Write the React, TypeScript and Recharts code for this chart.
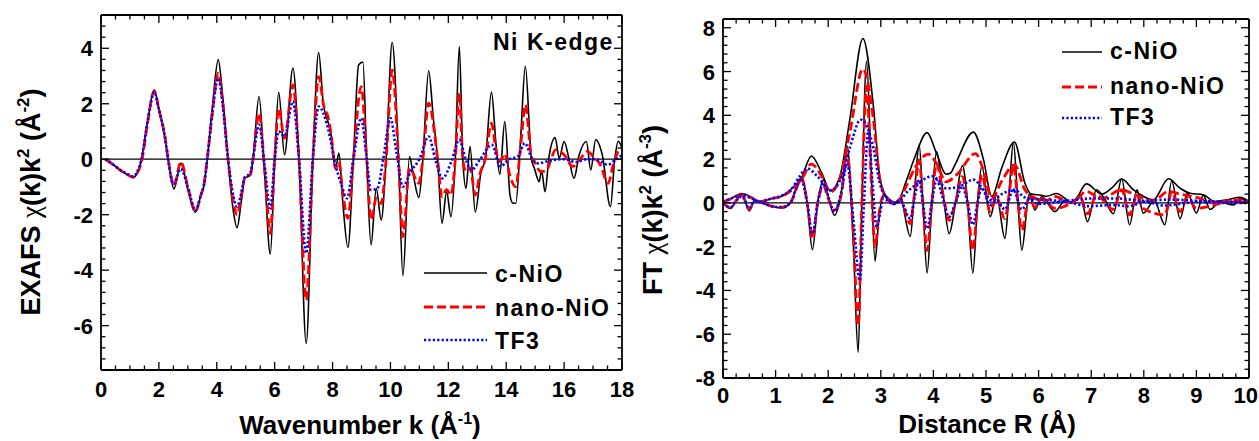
import React from "react";
import { LineChart, Line, XAxis, YAxis, ReferenceLine } from "recharts";

type Pt = [number, number];

// ---- EXAFS chi(k)k^2, left panel: [k, value] ----
const exafsC: Pt[] = [
  [0.15, 0], [0.43, -0.2], [0.66, -0.39], [0.9, -0.55], [1.11, -0.65], [1.25, -0.5], [1.4, 0], [1.6, 1.3], [1.84, 2.5],
  [2.0, 1.8], [2.21, 0.76], [2.32, 0], [2.52, -1.07], [2.76, -0.14], [3.0, -1.1], [3.26, -1.91], [3.45, -1.3],
  [3.56, -0.93], [3.67, 0], [3.85, 1.9], [4.05, 3.59], [4.2, 2.3], [4.39, 0], [4.55, -1.7], [4.7, -2.47],
  [4.85, -1.5], [4.97, -0.69], [5.16, -0.57], [5.25, 0], [5.46, 2.26], [5.65, -0.5], [5.85, -3.42], [6.0, 0],
  [6.14, 2.41], [6.34, 0.16], [6.63, 3.29], [6.84, 0], [7.09, -6.64], [7.32, 0], [7.52, 3.85], [7.68, 2.0],
  [7.84, 1.36], [7.95, 0.88], [8.1, -0.35], [8.22, 0.22], [8.35, -1.5], [8.53, -3.18], [8.72, 0], [8.9, 3.4],
  [9.05, 3.5], [9.18, 0], [9.33, -3.09], [9.51, -1.05], [9.68, -2.19], [9.85, 0], [10.06, 4.21], [10.28, 0],
  [10.43, -4.2], [10.66, 0.1], [10.77, -0.45], [10.98, -1.38], [11.12, 0], [11.32, 3.19], [11.48, 1.5],
  [11.63, 0], [11.78, -2.31], [11.94, -1.17], [12.09, -2.07], [12.24, 0], [12.38, 4.07], [12.5, 0],
  [12.61, -1.05], [12.75, 0.46], [12.93, -1.91], [13.13, -0.45], [13.28, 0], [13.49, 2.42], [13.65, 0.5],
  [13.78, -0.54], [13.95, 1.36], [14.13, -1.29], [14.22, -1.58], [14.33, -1.59], [14.5, 0.8], [14.66, 3.35],
  [14.87, 0], [14.97, -0.32], [15.14, -0.81], [15.22, -0.4], [15.34, -1.17], [15.48, 0.1], [15.69, 0.78],
  [15.83, 0.04], [16.0, 0.64], [16.17, 0], [16.34, -0.69], [16.52, 0.15], [16.77, 0.64], [16.92, -0.39],
  [17.09, 0.7], [17.32, 0.15], [17.6, -1.71], [17.75, 0], [17.87, 0.65], [18.0, 0.4],
];
const exafsN: Pt[] = [
  [0.15, 0], [0.43, -0.2], [0.66, -0.39], [0.9, -0.55], [1.11, -0.65], [1.25, -0.5], [1.42, 0], [1.6, 1.25],
  [1.84, 2.45], [2.0, 1.8], [2.21, 0.8], [2.32, 0], [2.52, -0.95], [2.76, -0.1], [3.0, -1.0], [3.26, -1.88],
  [3.45, -1.3], [3.56, -0.9], [3.67, 0], [3.85, 1.7], [4.05, 3.1], [4.2, 2.1], [4.39, 0], [4.55, -1.4],
  [4.7, -2.0], [4.85, -1.3], [4.97, -0.65], [5.16, -0.55], [5.25, 0], [5.46, 1.66], [5.65, -0.3], [5.85, -2.67],
  [6.0, 0], [6.14, 1.84], [6.34, 0.76], [6.63, 2.68], [6.84, 0], [7.09, -5.08], [7.32, 0], [7.52, 2.98],
  [7.7, 1.9], [7.84, 1.54], [7.95, 0.9], [8.1, -0.32], [8.22, -0.1], [8.35, -1.2], [8.53, -2.13], [8.72, 0],
  [8.99, 2.62], [9.18, 0], [9.33, -2.19], [9.51, -1.4], [9.68, -1.6], [9.85, 0], [10.06, 3.22], [10.28, 0],
  [10.43, -2.79], [10.66, -0.32], [10.98, -0.87], [11.12, 0], [11.32, 2.02], [11.63, 0], [11.78, -1.35],
  [11.94, -1.1], [12.09, -1.29], [12.24, 0], [12.38, 2.38], [12.5, 0], [12.61, -0.45], [12.75, -0.3],
  [12.93, -1.29], [13.1, -0.5], [13.28, 0.04], [13.49, 1.3], [13.65, 0.3], [13.78, -0.08], [13.95, 0.2],
  [14.13, -0.6], [14.33, -0.99], [14.5, 0.5], [14.66, 1.96], [14.87, 0.1], [14.97, -0.08], [15.2, -0.45],
  [15.4, -0.39], [15.55, 0], [15.7, 0.34], [16.0, 0.16], [16.3, -0.26], [16.55, 0], [16.8, 0.28], [17.0, 0.1],
  [17.25, -0.2], [17.52, -0.87], [17.7, -0.2], [17.9, 0.28], [18.0, 0.2],
];
const exafsT: Pt[] = [
  [0.15, 0], [0.43, -0.2], [0.66, -0.38], [0.9, -0.52], [1.11, -0.62], [1.25, -0.45], [1.4, 0], [1.6, 1.3],
  [1.84, 2.42], [2.0, 1.8], [2.21, 0.8], [2.32, 0], [2.5, -0.9], [2.76, -0.35], [3.0, -1.0], [3.26, -1.85],
  [3.45, -1.3], [3.56, -0.9], [3.67, 0], [3.85, 1.7], [4.05, 2.92], [4.2, 2.0], [4.39, 0], [4.55, -1.2],
  [4.7, -1.71], [4.85, -1.2], [4.97, -0.65], [5.16, -0.5], [5.25, 0], [5.46, 1.24], [5.65, -0.2], [5.85, -1.77],
  [6.0, 0], [6.14, 1.0], [6.34, 0.82], [6.63, 2.08], [6.84, 0], [7.09, -3.39], [7.32, 0], [7.52, 1.9],
  [7.84, 1.12], [8.1, -0.2], [8.3, -0.9], [8.5, -1.41], [8.72, 0], [8.99, 1.48], [9.15, 0.3], [9.33, -1.11],
  [9.55, -1.05], [9.75, 0], [10.0, 1.48], [10.2, 0.3], [10.43, -0.99], [10.7, -0.45], [11.0, 0], [11.32, 0.82],
  [11.55, 0], [11.8, -0.69], [12.1, -0.1], [12.38, 0.7], [12.6, 0], [12.8, -0.39], [13.1, 0], [13.5, 0.52],
  [13.8, -0.26], [14.1, 0], [14.4, 0.1], [14.64, 0.58], [14.9, 0], [15.1, -0.15], [15.5, -0.05], [16.0, 0],
  [16.4, -0.1], [16.8, 0], [17.1, 0], [17.5, -0.2], [17.8, 0], [18.0, 0.15],
];

// ---- FT of chi(k)k^2, right panel: magnitude and imaginary part, [R, value] ----
const ftMagC: Pt[] = [
  [0, 0.05], [0.15, 0.2], [0.36, 0.43], [0.55, 0.25], [0.69, 0.05], [0.93, 0.2], [1.09, 0.28], [1.31, 0.66],
  [1.5, 1.19], [1.68, 2.14], [1.88, 1.35], [2.04, 0.55], [2.22, 1.19], [2.41, 3.79], [2.66, 7.51], [2.86, 4.4],
  [2.98, 1.19], [3.11, 0.28], [3.3, 0], [3.49, 1.04], [3.65, 2.11], [3.88, 3.21], [4.06, 2.26], [4.24, 1.31],
  [4.32, 1.35], [4.41, 1.74], [4.76, 3.23], [4.95, 2.0], [5.11, 0.29], [5.3, 1.6], [5.54, 2.78], [5.74, 0.9],
  [5.86, 0.4], [6.06, 0.35], [6.15, 0.3], [6.34, 0.43], [6.65, 0], [6.91, 0.87], [7.2, 0.4], [7.4, 0.7],
  [7.58, 1.09], [7.8, 0.6], [7.99, 0.3], [8.18, 0.14], [8.47, 1.1], [8.69, 0.67], [8.88, 0.44], [9.13, 0.37],
  [9.35, 0.06], [9.58, 0.14], [9.83, 0.26], [10.0, 0.06],
];
const ftImC: Pt[] = [
  [0, 0], [0.14, -0.26], [0.25, 0.1], [0.36, 0.4], [0.5, -0.37], [0.6, 0.12], [0.75, 0], [0.93, -0.18],
  [1.12, -0.23], [1.28, 0], [1.5, 1.19], [1.6, 0], [1.7, -2.14], [1.8, 0], [1.91, 1.04], [2.0, 0.3],
  [2.12, -0.57], [2.25, 0.5], [2.36, 2.6], [2.48, -2.0], [2.57, -6.83], [2.64, 0], [2.73, 6.47], [2.81, 2.0],
  [2.89, -2.66], [2.96, -0.8], [3.04, 0.35], [3.24, -0.05], [3.37, 0.2], [3.56, -1.53], [3.64, 0.5],
  [3.73, 2.65], [3.8, 0], [3.88, -3.2], [3.97, 0], [4.06, 2.34], [4.18, 0.5], [4.3, -1.41], [4.42, 0],
  [4.55, 1.7], [4.65, 0], [4.75, -3.2], [4.84, 0], [4.92, 1.67], [5.08, -0.63], [5.2, 0.37], [5.36, -1.62],
  [5.44, 0.5], [5.52, 2.77], [5.6, 0.3], [5.68, -2.16], [5.82, 0.4], [5.93, -0.32], [6.06, 0.29], [6.31, -0.4],
  [6.5, 0.1], [6.63, 0], [6.79, 0.37], [6.93, -0.86], [7.1, 0.6], [7.25, 0.2], [7.42, -0.5], [7.58, 1.09],
  [7.73, -1.0], [7.87, 0.6], [7.99, -0.47], [8.2, 0.1], [8.4, -1.0], [8.53, 1.0], [8.69, -0.72], [8.83, 0.45],
  [9.0, -0.46], [9.13, 0.35], [9.26, -0.3], [9.45, 0.05], [9.7, -0.1], [9.83, 0.2], [10.0, 0],
];
const ftMagN: Pt[] = [
  [0, 0.05], [0.15, 0.18], [0.36, 0.38], [0.55, 0.22], [0.69, 0.05], [0.93, 0.2], [1.09, 0.28], [1.31, 0.6],
  [1.5, 1.1], [1.68, 1.77], [1.88, 1.2], [2.04, 0.5], [2.22, 1.1], [2.41, 3.2], [2.66, 6.12], [2.86, 3.8],
  [2.98, 1.1], [3.11, 0.25], [3.3, 0], [3.49, 0.8], [3.65, 1.6], [3.9, 2.23], [4.06, 1.8], [4.24, 0.96],
  [4.45, 1.3], [4.8, 2.25], [4.95, 1.5], [5.11, 0.2], [5.3, 1.0], [5.54, 1.74], [5.74, 0.6], [5.86, 0.3],
  [6.15, 0.1], [6.3, 0.3], [6.63, 0], [6.91, 0.52], [7.2, 0.2], [7.58, 0.6], [7.8, 0.4], [8.18, 0.1],
  [8.47, 0.52], [8.7, 0.4], [9.0, 0.25], [9.35, 0.03], [9.8, 0.15], [10.0, 0.05],
];
const ftImN: Pt[] = [
  [0, 0], [0.14, -0.22], [0.25, 0.1], [0.36, 0.35], [0.5, -0.3], [0.6, 0.1], [0.75, 0], [0.93, -0.15],
  [1.12, -0.2], [1.28, 0], [1.5, 1.1], [1.6, 0], [1.7, -1.64], [1.8, 0], [1.91, 0.8], [2.0, 0.2], [2.12, -0.34],
  [2.25, 0.4], [2.36, 2.2], [2.48, -1.5], [2.57, -5.61], [2.64, 0], [2.73, 5.32], [2.81, 1.5], [2.89, -2.02],
  [2.96, -0.6], [3.04, 0.3], [3.24, -0.05], [3.37, 0.15], [3.56, -0.95], [3.64, 0.4], [3.73, 1.96], [3.8, 0],
  [3.88, -2.17], [3.97, 0], [4.06, 1.8], [4.18, 0.4], [4.3, -0.8], [4.42, 0], [4.55, 1.2], [4.65, 0],
  [4.75, -2.17], [4.84, 0], [4.92, 1.28], [5.08, -0.4], [5.2, 0.25], [5.36, -0.72], [5.44, 0.4], [5.52, 1.74],
  [5.6, 0.2], [5.68, -1.25], [5.82, 0.25], [5.93, -0.2], [6.06, 0.2], [6.31, -0.25], [6.63, 0], [6.79, 0.25],
  [6.93, -0.5], [7.1, 0.35], [7.42, -0.3], [7.58, 0.6], [7.73, -0.55], [7.87, 0.35], [7.99, -0.25],
  [8.4, -0.55], [8.53, 0.5], [8.69, -0.4], [8.83, 0.25], [9.0, -0.25], [9.26, -0.15], [9.6, 0.05], [10.0, 0],
];
const ftMagT: Pt[] = [
  [0, 0.05], [0.15, 0.2], [0.36, 0.35], [0.55, 0.2], [0.69, 0.05], [0.93, 0.2], [1.09, 0.3], [1.31, 0.65],
  [1.45, 1.2], [1.6, 1.57], [1.8, 1.2], [2.04, 0.58], [2.26, 1.2], [2.41, 2.5], [2.62, 3.8], [2.86, 2.5],
  [2.98, 0.9], [3.11, 0.25], [3.3, 0], [3.5, 0.5], [3.74, 0.96], [3.99, 1.22], [4.1, 1.0], [4.25, 0.66],
  [4.5, 0.75], [4.76, 1.06], [4.95, 0.6], [5.11, 0.1], [5.3, 0.4], [5.54, 0.6], [5.74, 0.25], [6.0, 0.15],
  [6.5, 0.1], [7.0, 0.2], [7.5, 0.2], [8.0, 0.1], [8.5, 0.15], [9.0, 0.1], [9.5, 0.05], [10.0, 0.05],
];
const ftImT: Pt[] = [
  [0, 0], [0.14, -0.2], [0.25, 0.1], [0.36, 0.3], [0.5, -0.25], [0.6, 0.1], [0.75, 0], [0.93, -0.15],
  [1.12, -0.2], [1.28, 0], [1.48, 1.1], [1.6, 0], [1.7, -1.41], [1.8, 0], [1.91, 0.9], [2.0, 0.3], [2.12, -0.4],
  [2.25, 0.5], [2.36, 1.8], [2.48, -0.8], [2.6, -3.55], [2.68, 0], [2.76, 3.26], [2.84, 1.0], [2.92, -1.1],
  [3.0, -0.3], [3.04, 0.2], [3.24, -0.05], [3.37, 0.1], [3.56, -0.72], [3.64, 0.2], [3.73, 1.04], [3.8, 0],
  [3.88, -1.18], [3.97, 0], [4.06, 1.04], [4.18, 0.2], [4.3, -0.64], [4.42, 0], [4.55, 0.75], [4.65, 0],
  [4.75, -1.0], [4.84, 0], [4.92, 0.7], [5.08, -0.1], [5.2, 0.1], [5.36, -0.3], [5.52, 0.6], [5.68, -0.3],
  [5.82, 0.15], [6.0, -0.05], [6.5, 0.05], [6.93, -0.15], [7.42, -0.1], [7.73, -0.15], [8.0, 0.05],
  [8.4, -0.12], [8.7, -0.05], [9.0, 0.05], [9.5, 0], [10.0, 0],
];

// ---- axes ----
const kMajor = [0, 2, 4, 6, 8, 10, 12, 14, 16, 18];
const exafsMajor = [-6, -4, -2, 0, 2, 4];
const rMajor = [0, 1, 2, 3, 4, 5, 6, 7, 8, 9, 10];
const ftMajor = [-8, -6, -4, -2, 0, 2, 4, 6, 8];
const sampleNames = ["c-NiO", "nano-NiO", "TF3"];

const FONT = "'Liberation Sans', Arial, Helvetica, sans-serif";

type LineStyle = { stroke: string; strokeWidth: number; strokeDasharray?: string };
const STYLES: LineStyle[] = [
  { stroke: "#000000", strokeWidth: 1.6 },
  { stroke: "#ff0000", strokeWidth: 2.8, strokeDasharray: "9 4" },
  { stroke: "#0000ff", strokeWidth: 2.6, strokeDasharray: "2.2 2.2" },
];

const steps = (lo: number, hi: number, step: number) => {
  const n = Math.round((hi - lo) / step);
  const out: number[] = [];
  for (let i = 0; i <= n; i++) out.push(Math.round((lo + i * step) * 1000) / 1000);
  return out;
};
const isMajor = (v: number, majors: number[]) => majors.some((m) => Math.abs(m - v) < 1e-6);
const toRows = (pts: Pt[]) => pts.map(([x, y]) => ({ x, y }));

type Plot = { left: number; top: number; right: number; bottom: number };

function Panel(props: {
  width: number;
  height: number;
  plot: Plot;
  xDomain: [number, number];
  yDomain: [number, number];
  xMajor: number[];
  yMajor: number[];
  xStep: number;
  yStep: number;
  xLabelGap: number;
  series: { name: string; data: Pt[]; style: LineStyle }[];
}) {
  const { width, height, plot, xDomain, yDomain, xMajor, yMajor, xStep, yStep, xLabelGap, series } = props;
  const xTicks = steps(xDomain[0], xDomain[1], xStep);
  const yTicks = steps(yDomain[0], yDomain[1], yStep);
  const MAJ = 8;
  const MIN = 4.5;
  const axisLine = { stroke: "#000", strokeWidth: 1.8 };

  const bottomTick = (p: any) => {
    const v = p.payload.value;
    const maj = isMajor(v, xMajor);
    // keep the last label inside the picture when it would run past the edge
    const atEdge = p.x + 12 > width;
    return (
      <g>
        <line x1={p.x} x2={p.x} y1={plot.bottom} y2={plot.bottom - (maj ? MAJ : MIN)} stroke="#000" strokeWidth={1.3} />
        {maj && (
          <text x={atEdge ? width - 1 : p.x} y={plot.bottom + xLabelGap} textAnchor={atEdge ? "end" : "middle"}
            fontFamily={FONT} fontWeight={700} fontSize={22} fill="#000">
            {String(v)}
          </text>
        )}
      </g>
    );
  };
  const topTick = (p: any) => {
    const maj = isMajor(p.payload.value, xMajor);
    return <line x1={p.x} x2={p.x} y1={plot.top} y2={plot.top + (maj ? MAJ : MIN)} stroke="#000" strokeWidth={1.3} />;
  };
  const leftTick = (p: any) => {
    const v = p.payload.value;
    const maj = isMajor(v, yMajor);
    return (
      <g>
        <line x1={plot.left} x2={plot.left + (maj ? MAJ : MIN)} y1={p.y} y2={p.y} stroke="#000" strokeWidth={1.3} />
        {maj && (
          <text x={plot.left - 8} y={p.y + 8} textAnchor="end" fontFamily={FONT} fontWeight={700} fontSize={22} fill="#000">
            {String(v)}
          </text>
        )}
      </g>
    );
  };
  const rightTick = (p: any) => {
    const maj = isMajor(p.payload.value, yMajor);
    return <line x1={plot.right} x2={plot.right - (maj ? MAJ : MIN)} y1={p.y} y2={p.y} stroke="#000" strokeWidth={1.3} />;
  };

  return (
    <LineChart
      width={width}
      height={height}
      margin={{ top: plot.top - 1, right: width - plot.right - 1, bottom: 0, left: 0 }}
    >
      <XAxis xAxisId={0} dataKey="x" type="number" domain={xDomain} allowDataOverflow ticks={xTicks} interval={0}
        height={height - plot.bottom} tickLine={false} axisLine={axisLine} tick={bottomTick} />
      <XAxis xAxisId="top" orientation="top" dataKey="x" type="number" domain={xDomain} allowDataOverflow ticks={xTicks}
        interval={0} height={1} tickLine={false} axisLine={axisLine} tick={topTick} />
      <YAxis yAxisId={0} type="number" domain={yDomain} allowDataOverflow ticks={yTicks} interval={0}
        width={plot.left} tickLine={false} axisLine={axisLine} tick={leftTick} />
      <YAxis yAxisId="right" orientation="right" type="number" domain={yDomain} allowDataOverflow ticks={yTicks}
        interval={0} width={1} tickLine={false} axisLine={axisLine} tick={rightTick} />
      <ReferenceLine y={0} stroke="#000" strokeWidth={1.2} />
      {series.map((s, i) => (
        <Line key={s.name + i} data={toRows(s.data)} dataKey="y" type="monotone" dot={false} activeDot={false}
          isAnimationActive={false} strokeLinecap="butt" {...s.style} />
      ))}
    </LineChart>
  );
}

function Legend(props: { x1: number; x2: number; ys: number[]; tx: number; dy: number }) {
  return (
    <g>
      {sampleNames.map((name, i) => (
        <g key={name}>
          <line x1={props.x1} x2={props.x2} y1={props.ys[i]} y2={props.ys[i]} {...STYLES[i]} />
          <text x={props.tx} y={props.ys[i] + props.dy} fontFamily={FONT} fontWeight={700} fontSize={23} letterSpacing={1.5} fill="#000">
            {name}
          </text>
        </g>
      ))}
    </g>
  );
}

export default function App() {
  const T = { fontFamily: FONT, fontWeight: 700, fill: "#000" } as const;
  const chi = { fontFamily: "'Liberation Serif', 'DejaVu Serif', serif", fontWeight: 400 } as const;
  return (
    <div style={{ position: "absolute", left: 0, top: 0, width: 1259, height: 441, background: "#fff", overflow: "hidden" }}>
      <div style={{ position: "absolute", left: 0, top: 0 }}>
        <Panel
          width={640}
          height={441}
          plot={{ left: 101, top: 15, right: 622, bottom: 370 }}
          xDomain={[0, 18]}
          yDomain={[-7.6, 5.2]}
          xMajor={kMajor}
          yMajor={exafsMajor}
          xStep={0.5}
          yStep={0.4}
          xLabelGap={27}
          series={[
            { name: sampleNames[0], data: exafsC, style: STYLES[0] },
            { name: sampleNames[1], data: exafsN, style: STYLES[1] },
            { name: sampleNames[2], data: exafsT, style: STYLES[2] },
          ]}
        />
      </div>
      <div style={{ position: "absolute", left: 640, top: 0 }}>
        <Panel
          width={619}
          height={441}
          plot={{ left: 83, top: 19, right: 609, bottom: 378 }}
          xDomain={[0, 10]}
          yDomain={[-8, 8.4]}
          xMajor={rMajor}
          yMajor={ftMajor}
          xStep={0.25}
          yStep={0.4}
          xLabelGap={25}
          series={[
            { name: "mag " + sampleNames[0], data: ftMagC, style: STYLES[0] },
            { name: "im " + sampleNames[0], data: ftImC, style: STYLES[0] },
            { name: "mag " + sampleNames[1], data: ftMagN, style: STYLES[1] },
            { name: "im " + sampleNames[1], data: ftImN, style: STYLES[1] },
            { name: "mag " + sampleNames[2], data: ftMagT, style: STYLES[2] },
            { name: "im " + sampleNames[2], data: ftImT, style: STYLES[2] },
          ]}
        />
      </div>
      <svg width={1259} height={441} style={{ position: "absolute", left: 0, top: 0, pointerEvents: "none" }}>
        {/* axis titles */}
        <text x={360} y={434} textAnchor="middle" fontSize={26} {...T}>
          Wavenumber k (Å<tspan dy={-10} fontSize={16}>-1</tspan><tspan dy={10}>)</tspan>
        </text>
        <text transform="translate(40,202) rotate(-90)" textAnchor="middle" fontSize={27} {...T}>
          EXAFS <tspan {...chi}>χ</tspan>(k)k<tspan dy={-11} fontSize={17}>2</tspan>
          <tspan dy={11}> (Å</tspan><tspan dy={-11} fontSize={17}>-2</tspan><tspan dy={11}>)</tspan>
        </text>
        <text x={987} y={433} textAnchor="middle" fontSize={26} {...T}>
          Distance R (Å)
        </text>
        <text transform="translate(662,210) rotate(-90)" textAnchor="middle" fontSize={27} {...T}>
          FT <tspan {...chi}>χ</tspan>(k)k<tspan dy={-11} fontSize={17}>2</tspan>
          <tspan dy={11}> (Å</tspan><tspan dy={-11} fontSize={17}>-3</tspan><tspan dy={11}>)</tspan>
        </text>
        <text x={493} y={50} fontSize={23} letterSpacing={1.5} {...T}>
          Ni K-edge
        </text>
        <Legend x1={424} x2={487} ys={[273, 307, 340]} tx={495} dy={9} />
        <Legend x1={1062} x2={1102} ys={[52, 87, 118]} tx={1110} dy={7} />
      </svg>
    </div>
  );
}
